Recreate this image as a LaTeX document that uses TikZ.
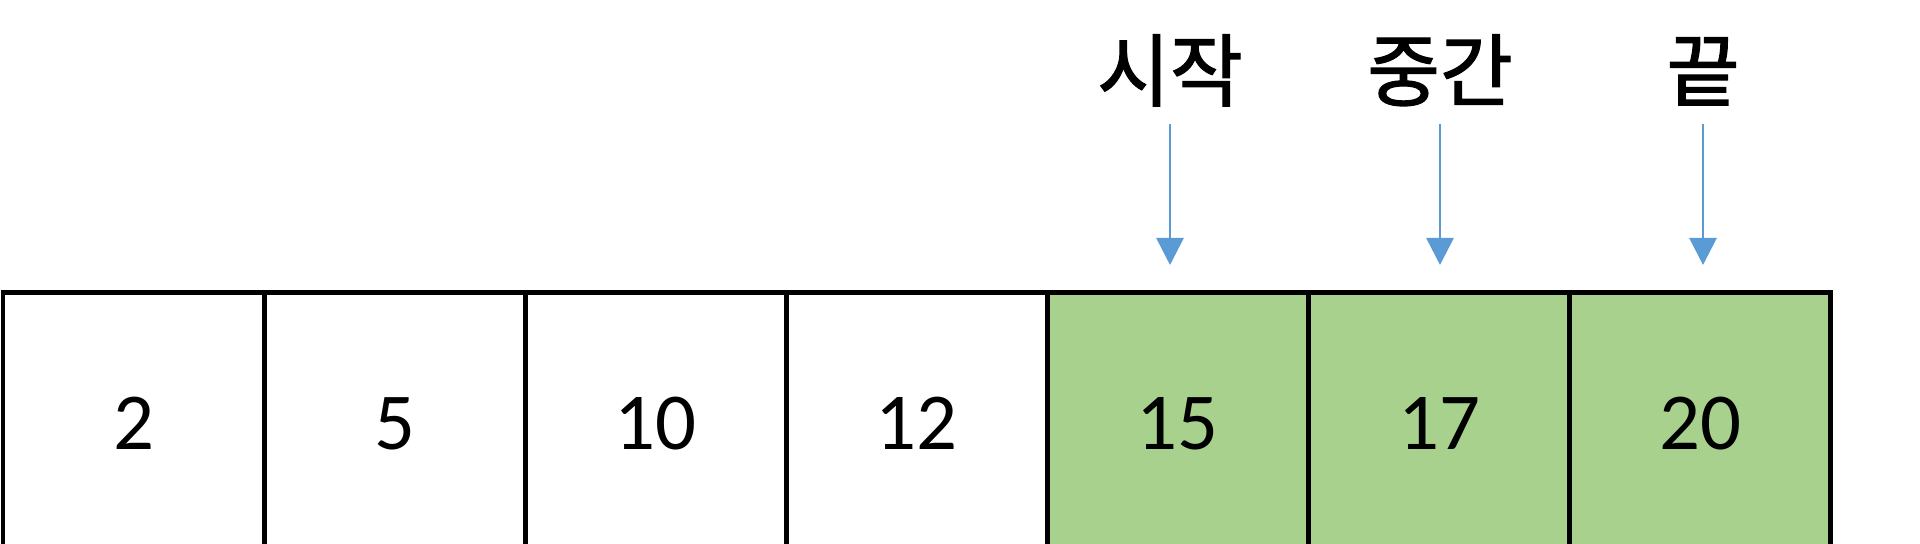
\documentclass[tikz,border=0pt]{standalone}
\usepackage{fontspec}
\setmainfont{Carlito}
\newfontfamily\kr{Noto Sans CJK KR}[FakeBold=1.6]
\usetikzlibrary{arrows.meta}
\definecolor{cellgreen}{RGB}{169,209,142}
\definecolor{ptrblue}{RGB}{91,155,213}

\begin{document}
\begin{tikzpicture}[
    cell/.style={rectangle, draw, line width=1.4pt, minimum width=2.611cm, minimum height=2.62cm, anchor=north, font=\fontsize{23}{23}\selectfont},
    hit/.style={cell, fill=cellgreen},
    lbl/.style={inner sep=0pt, anchor=base, text depth=0pt, font=\kr\fontsize{22.5}{22.5}\selectfont},
    ptr/.style={ptrblue, line width=0.8pt, -{Triangle[width=0.27cm,length=0.27cm]}, shorten <=0.23cm, shorten >=0.25cm}
  ]
  \useasboundingbox (0,0) rectangle (19.2,5.44);
  \clip (0,0) rectangle (19.2,5.44);

  % Draw the array cells
  \node[cell] (c1) at (1.3355, 2.54) {2};
  \node[cell] (c2) at (3.9465, 2.54) {5};
  \node[cell] (c3) at (6.5575, 2.54) {10};
  \node[cell] (c4) at (9.1685, 2.54) {12};

  % Draw the search range (highlighted)
  \node[hit] (c5) at (11.7795, 2.54) {15};
  \node[hit] (c6) at (14.3905, 2.54) {17};
  \node[hit] (c7) at (17.0015, 2.54) {20};

  % Draw the pointer labels
  \node[lbl] (lstart) at (11.70, 4.44) {시작};
  \node[lbl] (lmid) at (14.40, 4.44) {중간};
  \node[lbl] (lend) at (17.03, 4.44) {끝};

  % Draw the pointer arrows
  \draw[ptr] (lstart) -- (lstart |- c5.north); % start points to 15
  \draw[ptr] (lmid) -- (lmid |- c6.north); % middle points to 17
  \draw[ptr] (lend) -- (lend |- c7.north); % end points to 20
\end{tikzpicture}
\end{document}
